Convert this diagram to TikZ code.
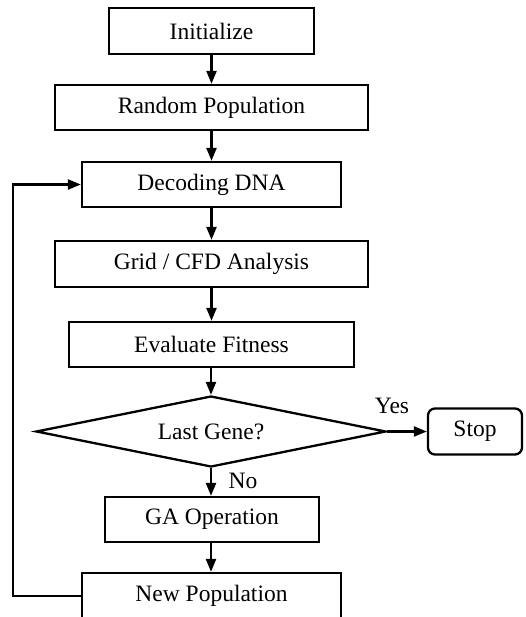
\documentclass[tikz,border=0pt]{standalone}
\usepackage{fontspec}
\setmainfont{Liberation Serif}
\usetikzlibrary{shapes.geometric,arrows.meta}
\begin{document}
\begin{tikzpicture}[x=1pt,y=-1pt,
  every node/.style={font=\fontsize{23.5}{28}\selectfont},
  box/.style={draw,line width=2.3pt,inner sep=0pt,anchor=center},
  decision/.style={draw,diamond,shape aspect=4.93,line width=2.3pt,inner sep=0pt,minimum width=350pt,minimum height=71pt},
  arr/.style={line width=2.3pt,-{Triangle[length=13pt,width=10pt]}},
  lbl/.style={inner sep=0pt}]
\useasboundingbox (0,0) rectangle (525,617);
\clip (0,0) rectangle (525,617);
\node[box,minimum width=205pt,minimum height=46pt] (init) at (211.5,31) {Initialize};
\node[box,minimum width=313pt,minimum height=45pt] (rand) at (211.5,107.5) {Random Population};
\node[box,minimum width=259pt,minimum height=45pt] (dec) at (211.5,184.5) {Decoding DNA};
\node[box,minimum width=313pt,minimum height=46pt] (grid) at (211.5,264) {Grid / CFD Analysis};
\node[box,minimum width=285pt,minimum height=45pt] (eval) at (211.5,344.5) {Evaluate Fitness};
\node[decision] (last) at (211,431.5) {Last Gene?};
\node[box,rounded corners=7pt,minimum width=94pt,minimum height=46pt] (stop) at (475,431.5) {Stop};
\node[box,minimum width=214pt,minimum height=45pt] (ga) at (212,519.5) {GA Operation};
\node[box,minimum width=259pt,minimum height=46pt] (newp) at (211.5,596) {New Population};
\node[lbl] (yes) at (392,406) {Yes};
\node[lbl] (no) at (243,481) {No};
\coordinate (lb) at (13,596);
\coordinate (lt) at (13,184.5);
\draw[arr] (init) -- (rand);
\draw[arr] (rand) -- (dec);
\draw[arr] (dec) -- (grid);
\draw[arr] (grid) -- (eval);
\draw[arr] (eval.south -| last.north) -- (last.north);
\draw[arr] (last.south) -- (ga.north -| last.south);
\draw[arr] (last.east) -- (stop.west);
\draw[arr] (ga.south -| last.south) -- (newp.north -| last.south);
\draw[arr] (newp.west) -- (lb) -- (lt) -- (dec.west);
\end{tikzpicture}
\end{document}
